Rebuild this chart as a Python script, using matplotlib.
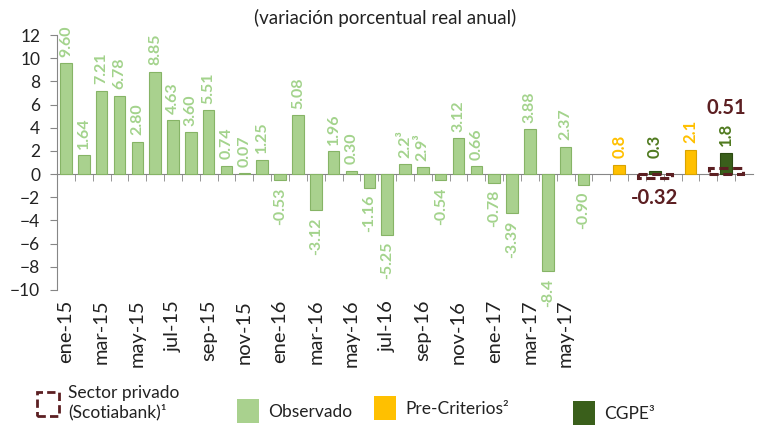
import matplotlib
matplotlib.use('Agg')
import matplotlib.pyplot as plt
from matplotlib.patches import Patch
import numpy as np

plt.rcParams['font.family'] = ['Lato', 'DejaVu Sans']

# ---------------- data ----------------
meses = ['ene-15', 'feb-15', 'mar-15', 'abr-15', 'may-15', 'jun-15', 'jul-15', 'ago-15',
         'sep-15', 'oct-15', 'nov-15', 'dic-15', 'ene-16', 'feb-16', 'mar-16', 'abr-16',
         'may-16', 'jun-16', 'jul-16', 'ago-16', 'sep-16', 'oct-16', 'nov-16', 'dic-16',
         'ene-17', 'feb-17', 'mar-17', 'abr-17', 'may-17', 'jun-17']
observado = [9.60, 1.64, 7.21, 6.78, 2.80, 8.85, 4.63, 3.60, 5.51, 0.74, 0.07, 1.25,
             -0.53, 5.08, -3.12, 1.96, 0.30, -1.16, -5.25, 0.85, 0.60, -0.54, 3.12, 0.66,
             -0.78, -3.39, 3.88, -8.40, 2.37, -0.90]
etiquetas_obs = ['9.60', '1.64', '7.21', '6.78', '2.80', '8.85', '4.63', '3.60', '5.51',
                 '0.74', '0.07', '1.25', '-0.53', '5.08', '-3.12', '1.96', '0.30', '-1.16',
                 '-5.25', '2.2³', '2.9³', '-0.54', '3.12', '0.66', '-0.78', '-3.39', '3.88',
                 '-8.4', '2.37', '-0.90']
proyecciones = ['_e1', '2017_pc', '_e2', '2017', '_e3', '2018_pc', '_e4', '2018', '_e5']
pre_criterios = {'2017_pc': 0.8, '2018_pc': 2.1}
cgpe = {'2017': 0.3, '2018': 1.8}
sector_privado = {'2017': -0.32, '2018': 0.51}

titulo = '(variación porcentual real anual)'
yticks = list(range(-10, 13, 2))

# ---------------- colours ----------------
c_obs = '#a9d18e'
c_obs_edge = '#86b466'
c_obs_txt = '#a3d38c'
c_pc = '#ffc000'
c_pc_edge = '#d9a300'
c_cgpe = '#3a5f1b'
c_cgpe_txt = '#4f7a1f'
c_sp = '#5c1f22'

categorias = meses + proyecciones
x = np.arange(len(categorias))
idx = {c: i for i, c in enumerate(categorias)}

fig = plt.figure(figsize=(7.57, 4.25), dpi=100)
ax = fig.add_axes([57 / 757, 1 - 290 / 425, 696 / 757, 255 / 425])

# observed bars
xo = x[:len(meses)]
ax.bar(xo, observado, width=0.65, color=c_obs, edgecolor=c_obs_edge, linewidth=0.8, zorder=3)
for xi, v, t in zip(xo, observado, etiquetas_obs):
    if v >= 0:
        ax.annotate(t, (xi, v), xytext=(0, 4.5), textcoords='offset points', rotation=90,
                    ha='center', va='bottom', color=c_obs_txt, fontsize=11.5, fontweight='bold')
    else:
        ax.annotate(t, (xi, v), xytext=(0, -5), textcoords='offset points', rotation=90,
                    ha='center', va='top', color=c_obs_txt, fontsize=11.5, fontweight='bold')

# pre-criterios
xp = [idx[k] for k in pre_criterios]
vp = list(pre_criterios.values())
ax.bar(xp, vp, width=0.65, color=c_pc, edgecolor=c_pc_edge, linewidth=0.8, zorder=3)
for xi, v in zip(xp, vp):
    ax.annotate(f'{v:.1f}', (xi, v), xytext=(0, 5), textcoords='offset points', rotation=90,
                ha='center', va='bottom', color=c_pc, fontsize=12, fontweight='bold')

# CGPE
xc = [idx[k] for k in cgpe]
vc = list(cgpe.values())
ax.bar(xc, vc, width=0.65, color=c_cgpe, edgecolor='#2c4a12', linewidth=0.8, zorder=3)
for xi, v in zip(xc, vc):
    ax.annotate(f'{v:.1f}', (xi, v), xytext=(0, 5 if v > 1 else 9), textcoords='offset points',
                rotation=90, ha='center', va='bottom', color=c_cgpe_txt, fontsize=12,
                fontweight='bold')

# sector privado (dashed boxes)
xs = [idx[k] for k in sector_privado]
vs = list(sector_privado.values())
ax.bar(xs, vs, width=1.9, facecolor='none', edgecolor=c_sp, linewidth=2.2,
       linestyle=(0, (3, 1.5)), zorder=4)
for xi, v in zip(xs, vs):
    if v >= 0:
        ax.annotate(f'{v:.2f}', (xi, v), xytext=(0, 36), textcoords='offset points',
                    ha='center', va='bottom', color=c_sp, fontsize=14.5, fontweight='bold')
    else:
        ax.annotate(f'{v:.2f}', (xi, v), xytext=(0, -7), textcoords='offset points',
                    ha='center', va='top', color=c_sp, fontsize=14.5, fontweight='bold')

# axes styling
ax.set_xlim(-0.5, len(categorias) - 0.5)
ax.set_ylim(-10, 12)
ax.set_yticks(yticks)
ax.tick_params(axis='y', length=5, color='#868686', labelsize=12.5, labelcolor='#222222', pad=7)
for s in ['top', 'right']:
    ax.spines[s].set_visible(False)
ax.spines['left'].set_color('#868686')
ax.spines['bottom'].set_position(('data', 0))
ax.spines['bottom'].set_color('#868686')
ax.set_xticks(x[:-1] + 0.5, minor=True)
ax.set_xticks([])
ax.tick_params(axis='x', which='minor', length=5, color='#868686', direction='out')

sec = ax.secondary_xaxis('bottom')
sec.set_xticks(xo[::2])
sec.set_xticklabels(meses[::2], rotation=90, fontsize=14.5, color='#222222')
sec.tick_params(length=0, pad=7)
sec.spines['bottom'].set_visible(False)

fig.text(385 / 757, 1 - 18 / 425, titulo, ha='center', va='center', fontsize=13.5,
         color='#222222')

# legends
leg_items = [
    (Patch(facecolor='none', edgecolor=c_sp, linewidth=2, linestyle=(0, (3, 1.5))),
     'Sector privado\n(Scotiabank)¹', 37, 403),
    (Patch(facecolor=c_obs, edgecolor='none'), 'Observado', 237, 411),
    (Patch(facecolor=c_pc, edgecolor='none'), 'Pre-Criterios²', 374, 408),
    (Patch(facecolor=c_cgpe, edgecolor='none'), 'CGPE³', 573, 413),
]
for h, lab, px, py in leg_items:
    fig.legend(handles=[h], labels=[lab], loc='center left',
               bbox_to_anchor=(px / 757, 1 - py / 425), frameon=False, fontsize=12.5,
               handlelength=1.25, handleheight=1.75, handletextpad=0.55, borderpad=0,
               borderaxespad=0, labelcolor='#222222')

fig.savefig('out.png', dpi=100)
